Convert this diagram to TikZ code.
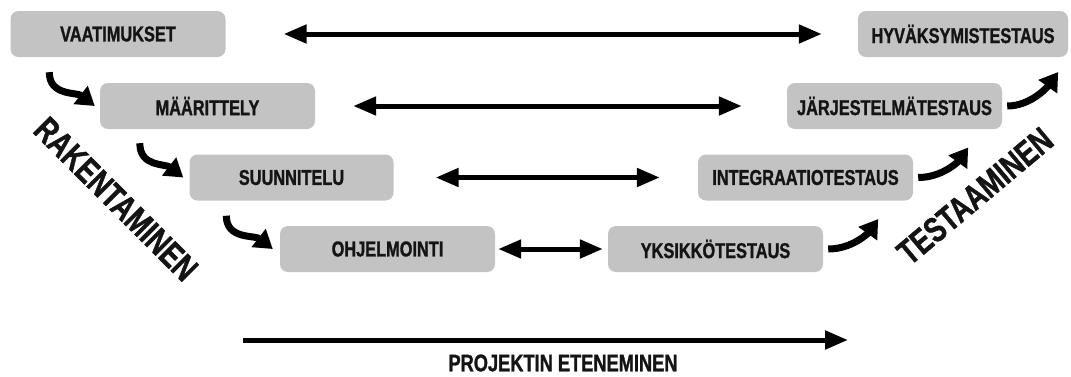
\documentclass[tikz,border=0pt]{standalone}
\usepackage{fontspec}
\setmainfont{Liberation Sans}[FakeStretch=0.76, BoldFeatures={FakeBold=1.2}]
\usetikzlibrary{arrows.meta}
\definecolor{boxgray}{HTML}{C3C3C3}
\definecolor{ink}{HTML}{141414}

\begin{document}
\begin{tikzpicture}[x=1pt,y=-1pt,
phase/.style={fill=boxgray, rounded corners=8pt, minimum width=215pt, minimum height=46pt, inner sep=0pt, text=ink, font=\fontsize{21.5}{21.5}\selectfont\bfseries},
link/.style={line width=5pt, {Triangle[length=23pt,width=18pt]}-{Triangle[length=23pt,width=18pt]}},
turn/.style={line width=7pt, -{Triangle[length=18pt,width=22pt]}},
side/.style={text=ink, font=\fontsize{35}{35}\selectfont\bfseries}]
\useasboundingbox (0,0) rectangle (1071,376);
\node[phase] (vaat) at (118,34) {VAATIMUKSET};
\node[phase] (maar) at (207.5,106) {MÄÄRITTELY};
\node[phase, minimum width=204pt] (suun) at (291.5,177.5) {SUUNNITELU};
\node[phase] (ohj) at (387.5,249) {OHJELMOINTI};
\node[phase] (yksi) at (715.5,249) {YKSIKKÖTESTAUS};
\node[phase] (integ) at (805.5,177.5) {INTEGRAATIOTESTAUS};
\node[phase] (jarj) at (894.5,106) {JÄRJESTELMÄTESTAUS};
\node[phase, minimum width=210pt] (hyv) at (963,34) {HYVÄKSYMISTESTAUS};
\draw[link, shorten <=58pt, shorten >=36pt] (vaat) -- (hyv);
\draw[link, shorten <=38pt, shorten >=45pt] (maar) -- (jarj);
\draw[link, shorten <=42pt, shorten >=38pt] (suun) -- (integ);
\draw[link, shorten <=3pt, shorten >=5pt] (ohj) -- (yksi);
\draw[turn] ([shift={(39,15)}]vaat.south west) .. controls +(0,24) and +(-18,-14) .. ([xshift=-5pt]maar.west);
\draw[turn] ([shift={(40,14)}]maar.south west) .. controls +(0,24) and +(-18,-14) .. ([xshift=-6pt]suun.west);
\draw[turn] ([shift={(37,15)}]suun.south west) .. controls +(0,24) and +(-18,-14) .. ([xshift=-7pt]ohj.west);
\draw[turn] ([xshift=5pt]yksi.east) .. controls +(24,0) and +(-10,14) .. ++(50,-30);
\draw[turn] ([xshift=5pt]integ.east) .. controls +(24,0) and +(-10,14) .. ++(50,-30);
\draw[turn] ([xshift=5pt]jarj.east) .. controls +(24,0) and +(-10,14) .. ++(51,-34);
\node[side, rotate=-45] (build) at (116,199) {RAKENTAMINEN};
\node[side, rotate=40] (test) at (975,196) {TESTAAMINEN};
\coordinate (start) at (243,340);
\coordinate (stop) at (848,340);
\draw[line width=5pt, -{Triangle[length=23pt,width=18pt]}] (start) -- (stop);
\node[inner sep=0pt, text=ink, font=\fontsize{24}{24}\selectfont\bfseries] (prog) at (563,363) {PROJEKTIN ETENEMINEN};
\end{tikzpicture}
\end{document}
